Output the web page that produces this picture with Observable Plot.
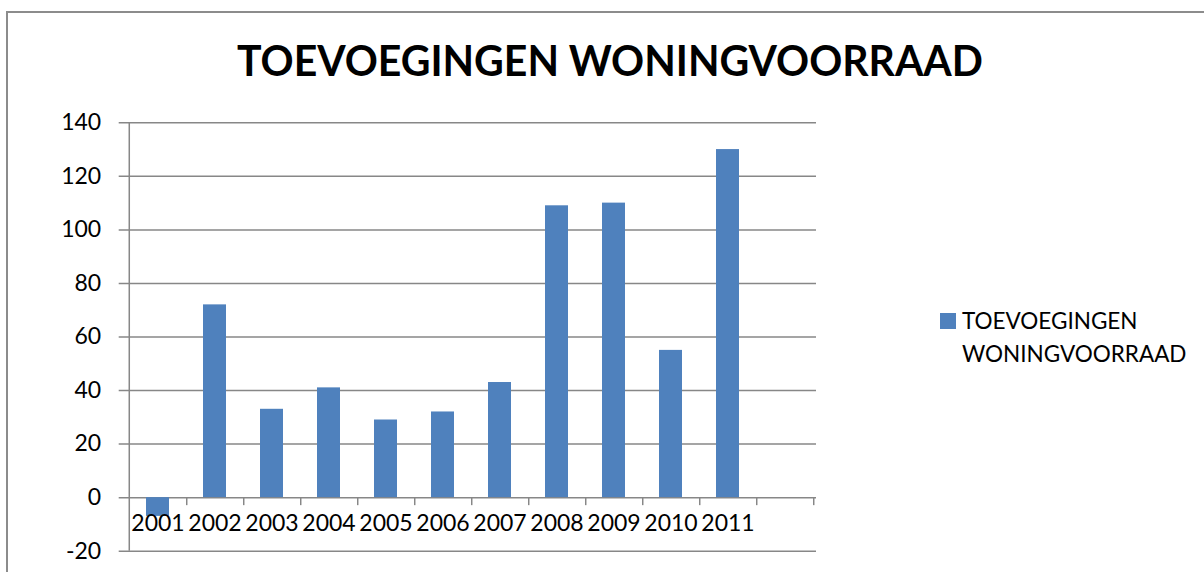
<!DOCTYPE html>
<html>
<head>
<meta charset="utf-8">
<script src="https://cdn.jsdelivr.net/npm/d3@7"></script>
<script src="https://cdn.jsdelivr.net/npm/@observablehq/plot@0.6"></script>
<style>
  html, body { margin: 0; padding: 0; background: #fff; }
  #wrap { position: relative; width: 1204px; height: 572px; overflow: hidden; font-family: Lato, "Open Sans", sans-serif; }
  #frame { position: absolute; left: 6px; top: 11px; width: 1300px; height: 700px; border-left: 2px solid #8c8c8c; border-top: 2px solid #8c8c8c; box-sizing: border-box; }
  #title { position: absolute; left: 0; top: 38.6px; width: 1220px; text-align: center; font-size: 41.5px; font-weight: 700; line-height: 42px; color: #000; white-space: nowrap; }
  #title span { display: inline-block; transform-origin: 50% 50%; }
  #legend { position: absolute; left: 940px; top: 304px; font-size: 22.5px; line-height: 33px; color: #000; }
  #legend .sw { position: absolute; left: 0; top: 9px; width: 16px; height: 16px; }
  #legend .txt { position: absolute; left: 22px; top: 0; white-space: nowrap; }
  #chart { position: absolute; left: 0; top: 0; }
</style>
</head>
<body>
<div id="wrap">
  <div id="frame"></div>
  <div id="chart"></div>
  <div id="title"><span></span></div>
  <div id="legend"><div class="sw"></div><div class="txt"></div></div>
</div>
<script>
const seriesName = "TOEVOEGINGEN WONINGVOORRAAD";
const years = ["2001", "2002", "2003", "2004", "2005", "2006", "2007", "2008", "2009", "2010", "2011"];
const values = [-7, 72, 33, 41, 29, 32, 43, 109, 110, 55, 130];
const yTicks = [-20, 0, 20, 40, 60, 80, 100, 120, 140];
const categories = [...years, ""];

const barColor = "#4F81BD";
const gridColor = "#878787";

const W = 1204, H = 572;
const ML = 126.7, MR = W - 816, MT = 122.3, MB = H - 550.7;
const step = (W - ML - MR) / categories.length;

const data = years.map((year, i) => ({year, value: values[i]}));

const chart = Plot.plot({
  width: W,
  height: H,
  marginLeft: ML,
  marginRight: MR,
  marginTop: MT,
  marginBottom: MB,
  style: {fontFamily: "Lato, 'Open Sans', sans-serif", fontSize: "23px", color: "#000", background: "transparent", overflow: "visible"},
  x: {domain: categories, paddingInner: 0.6, paddingOuter: 0.3, axis: null},
  y: {domain: [-20, 140], axis: null},
  marks: [
    Plot.ruleY(yTicks, {stroke: gridColor, strokeWidth: 1.5, insetLeft: -8}),
    Plot.barY(data, {x: "year", y: "value", fill: barColor}),
    Plot.ruleX([categories[0]], {dx: -step / 2, stroke: gridColor, strokeWidth: 1.5}),
    Plot.ruleX(categories, {dx: step / 2, y1: 0, y2: 0, insetBottom: -8, stroke: gridColor, strokeWidth: 1.5}),
    Plot.text(years, {x: d => d, frameAnchor: "bottom", dy: -20, fontSize: 23, fill: "#000"}),
    Plot.text(yTicks, {y: d => d, frameAnchor: "left", dx: -26, textAnchor: "end", fontSize: 23, fill: "#000"})
  ]
});
document.getElementById("chart").appendChild(chart);

const titleSpan = document.querySelector("#title span");
titleSpan.textContent = seriesName;
const tw = titleSpan.getBoundingClientRect().width;
if (tw > 0) titleSpan.style.transform = `scaleX(${746 / tw})`;

document.querySelector("#legend .sw").style.background = barColor;
document.querySelector("#legend .txt").innerHTML = seriesName.replace(" ", "<br>");
</script>
</body>
</html>
